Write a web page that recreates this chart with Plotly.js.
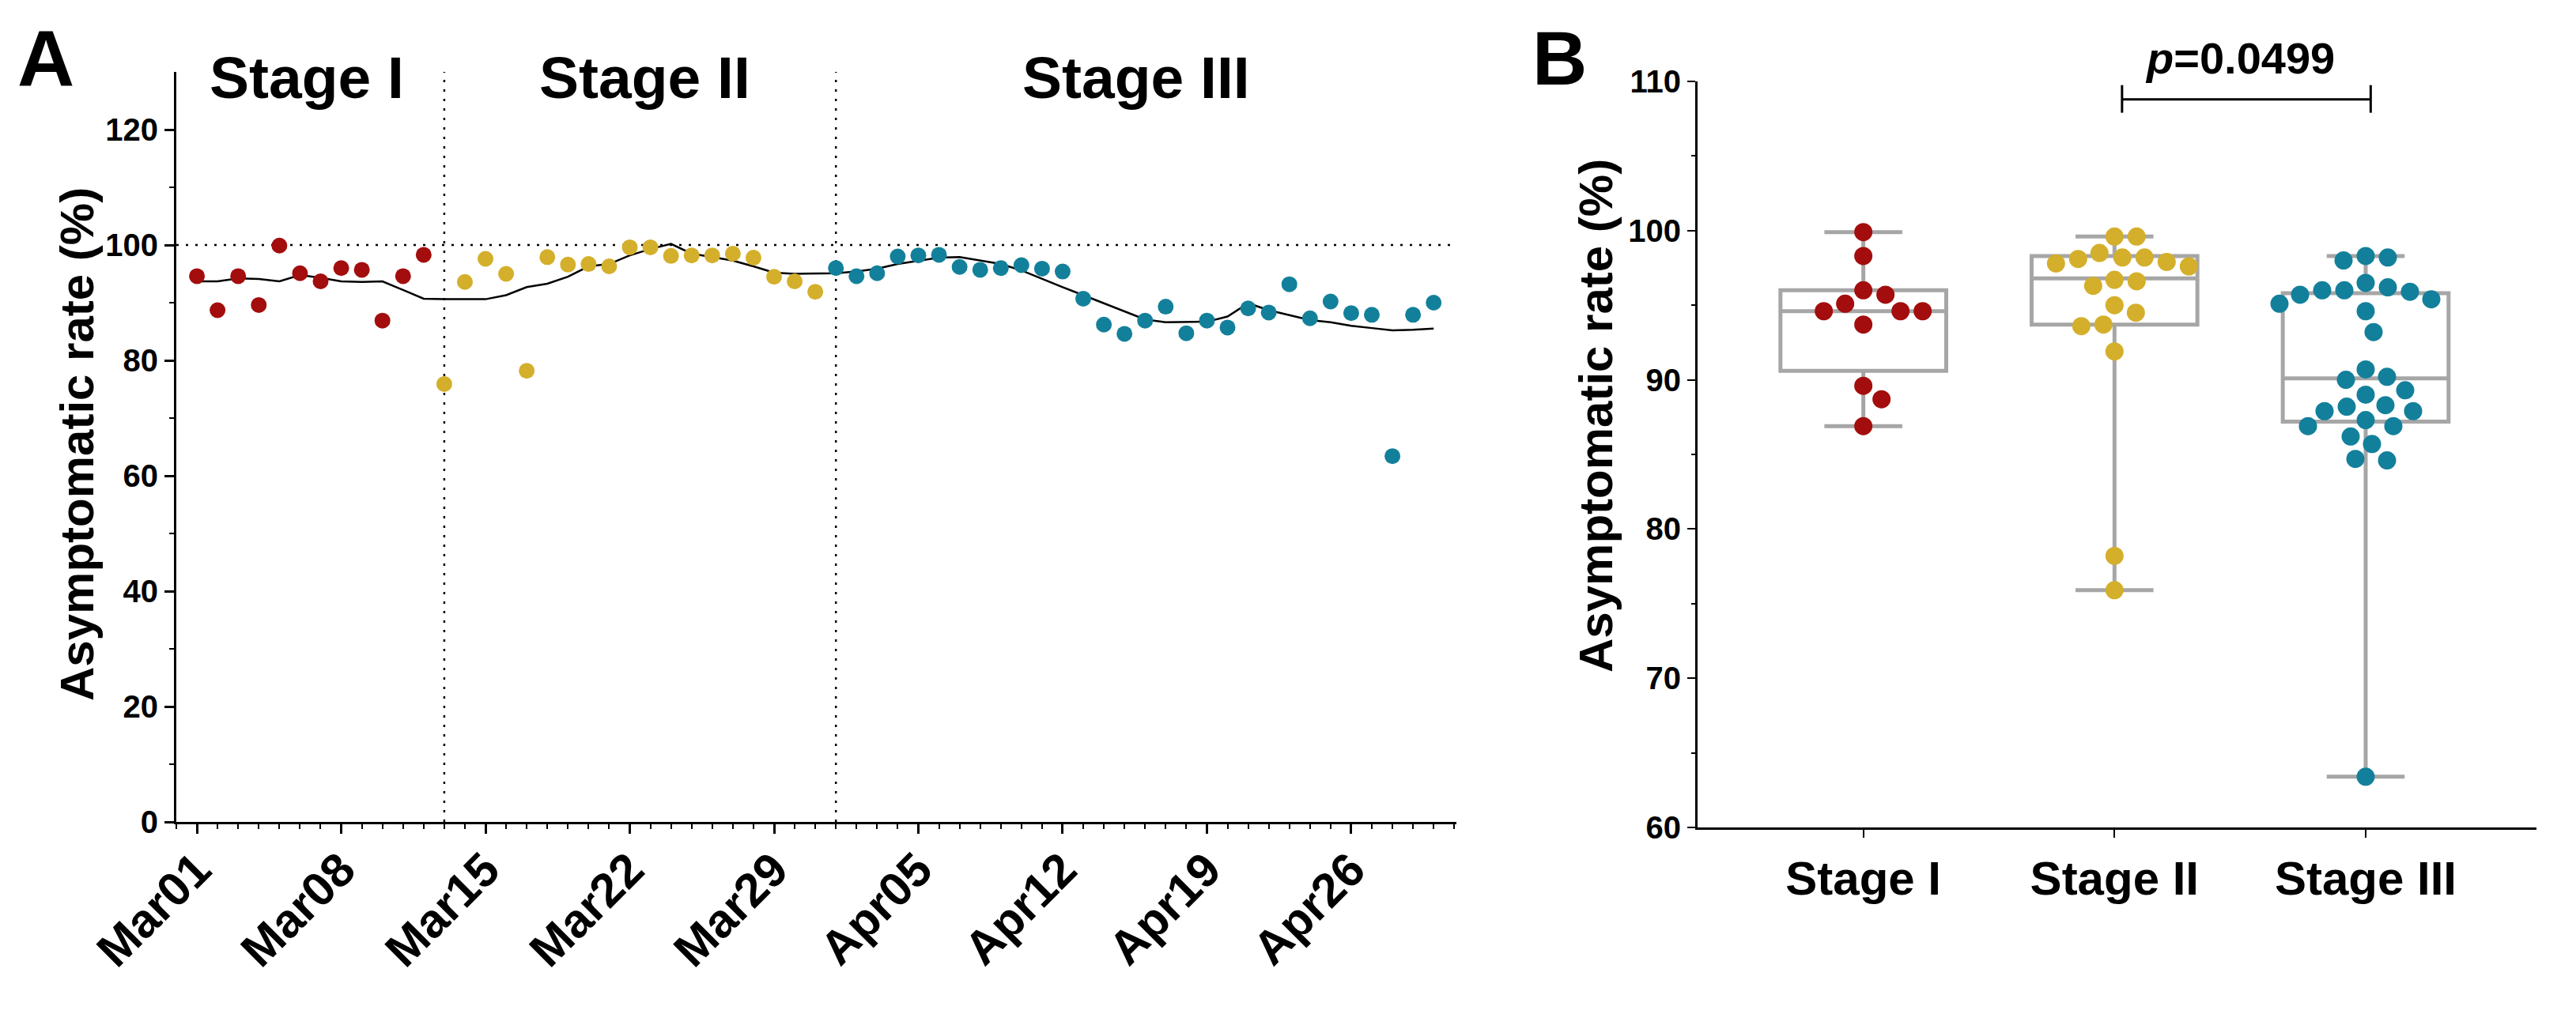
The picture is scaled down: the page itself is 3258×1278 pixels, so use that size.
<!DOCTYPE html>
<html>
<head>
<meta charset="utf-8">
<script src="https://cdn.plot.ly/plotly-3.0.1.min.js"></script>
<style>
html,body{margin:0;padding:0;background:#fff;}
#chart{width:3258px;height:1278px;}
</style>
</head>
<body>
<div id="chart"></div>
<script>
// ---------------- DATA ----------------
const stageNames = ["Stage I", "Stage II", "Stage III"];

const stage1Dates = ["2020-03-01","2020-03-02","2020-03-03","2020-03-04","2020-03-05","2020-03-06",
  "2020-03-07","2020-03-08","2020-03-09","2020-03-10","2020-03-11","2020-03-12"];
const stage1Rate = [94.6, 88.7, 94.6, 89.6, 99.9, 95.1, 93.7, 96.0, 95.7, 86.9, 94.6, 98.3];

const stage2Dates = ["2020-03-13","2020-03-14","2020-03-15","2020-03-16","2020-03-17","2020-03-18",
  "2020-03-19","2020-03-20","2020-03-21","2020-03-22","2020-03-23","2020-03-24","2020-03-25",
  "2020-03-26","2020-03-27","2020-03-28","2020-03-29","2020-03-30","2020-03-31"];
const stage2Rate = [75.9, 93.6, 97.6, 95.0, 78.2, 97.9, 96.6, 96.7, 96.3, 99.6, 99.6, 98.1, 98.2,
  98.2, 98.5, 97.8, 94.5, 93.7, 91.9];

const stage3Dates = ["2020-04-01","2020-04-02","2020-04-03","2020-04-04","2020-04-05","2020-04-06",
  "2020-04-07","2020-04-08","2020-04-09","2020-04-10","2020-04-11","2020-04-12","2020-04-13",
  "2020-04-14","2020-04-15","2020-04-16","2020-04-17","2020-04-18","2020-04-19","2020-04-20",
  "2020-04-21","2020-04-22","2020-04-23","2020-04-24","2020-04-25","2020-04-26","2020-04-27",
  "2020-04-28","2020-04-29","2020-04-30"];
const stage3Rate = [96.0, 94.6, 95.1, 98.0, 98.2, 98.3, 96.2, 95.7, 96.0, 96.5, 95.9, 95.4, 90.7,
  86.2, 84.6, 86.9, 89.3, 84.7, 86.9, 85.7, 89.0, 88.3, 93.2, 87.3, 90.2, 88.2, 87.9,
  63.4, 87.9, 90.0];

// smoothed trend line (one value per day, Mar01..Apr30)
const trendMarch = [93.7, 93.7, 94.2, 94.1, 93.7, 94.8, 94.3, 93.7, 93.6, 93.7, 92.2, 90.7, 90.6,
  90.6, 90.6, 91.3, 92.7, 93.3, 94.5, 96.3, 96.7, 98.2, 99.3, 100.2, 98.5, 97.9, 97.3, 96.3,
  95.2, 95.0, 95.0];
const trendApril = [95.1, 95.4, 95.9, 96.7, 97.3, 97.8, 97.9, 97.3, 96.7, 95.6, 94.1, 92.7, 91.3,
  89.9, 88.6, 87.1, 86.6, 86.6, 86.7, 87.6, 89.9, 88.7, 87.9, 87.0, 86.6, 86.0, 85.6, 85.2,
  85.3, 85.5];

// box statistics (panel B)
const boxLower  = [86.9, 75.9, 63.4];
const boxQ1     = [90.6, 93.7, 87.2];
const boxMedian = [94.6, 96.8, 90.1];
const boxQ3     = [96.0, 98.3, 95.8];
const boxUpper  = [99.9, 99.6, 98.3];

const yTicksA = [0, 20, 40, 60, 80, 100, 120];
const yTicksB = [60, 70, 80, 90, 100, 110];
const pText = "<i>p</i>=0.0499";

// ---------------- STYLE ----------------
const W = 3258, H = 1278;
const FONT = "Liberation Sans, Arial, Helvetica, sans-serif";
const colors = ["#A30D0D", "#D4AF2B", "#13809B"];
const boxGray = "#A6A6A6";
const px = x => x / W;
const py = y => 1 - y / H;

// Panel geometry (pixels)
const A = {l: 223, r: 1842, t: 91, b: 1040};
const B = {l: 2147, r: 3208, t: 103, b: 1047};
const bxRange = [-0.66, 2.68];
const byRange = [60, 110];

// simple beeswarm layout for panel B points
function swarm(values, pxPerX, pxPerY, dist) {
  const order = values.map((v, i) => i).sort((a, b) => values[b] - values[a]);
  const placed = [];
  const offs = new Array(values.length);
  for (const i of order) {
    const yp = values[i] * pxPerY;
    let chosen = 0;
    for (let k = 0; k < 2000; k++) {
      const cand = (k % 2 === 1 ? 1 : -1) * Math.ceil(k / 2);
      let ok = true;
      for (const p of placed) {
        const dx = p.x - cand, dy = p.y - yp;
        if (dx * dx + dy * dy < dist * dist) { ok = false; break; }
      }
      if (ok) { chosen = cand; break; }
    }
    placed.push({x: chosen, y: yp});
    offs[i] = chosen / pxPerX;
  }
  return offs;
}

const pxPerXB = (B.r - B.l) / (bxRange[1] - bxRange[0]);
const pxPerYB = (B.b - B.t) / (byRange[1] - byRange[0]);

const stageRates = [stage1Rate, stage2Rate, stage3Rate];
const stageDates = [stage1Dates, stage2Dates, stage3Dates];

const traces = [];

// Panel A: trend line
traces.push({
  type: "scatter", mode: "lines",
  x: stage1Dates.concat(stage2Dates, stage3Dates),
  y: trendMarch.concat(trendApril),
  line: {color: "#000", width: 2.5},
  xaxis: "x", yaxis: "y", hoverinfo: "skip", showlegend: false
});
// Panel A: points
for (let s = 0; s < 3; s++) {
  traces.push({
    type: "scatter", mode: "markers",
    x: stageDates[s], y: stageRates[s],
    marker: {color: colors[s], size: 20},
    xaxis: "x", yaxis: "y", name: stageNames[s], showlegend: false
  });
}
// Panel B: boxes
traces.push({
  type: "box", x: [0, 1, 2],
  q1: boxQ1, median: boxMedian, q3: boxQ3, lowerfence: boxLower, upperfence: boxUpper,
  width: 0.66, whiskerwidth: 0.47, boxpoints: false,
  line: {color: boxGray, width: 5}, fillcolor: "rgba(255,255,255,0)",
  xaxis: "x2", yaxis: "y2", hoverinfo: "skip", showlegend: false
});
// Panel B: points
for (let s = 0; s < 3; s++) {
  const offs = swarm(stageRates[s], pxPerXB, pxPerYB, 28);
  traces.push({
    type: "scatter", mode: "markers",
    x: offs.map(o => s + o), y: stageRates[s],
    marker: {color: colors[s], size: 23},
    xaxis: "x2", yaxis: "y2", name: stageNames[s], showlegend: false
  });
}

const axisCommon = {
  showline: true, linecolor: "#000", linewidth: 3, showgrid: false, zeroline: false,
  ticks: "outside", tickcolor: "#000", tickwidth: 3, mirror: false
};

const layout = {
  width: W, height: H, autosize: false,
  margin: {l: 0, r: 0, t: 0, b: 0},
  paper_bgcolor: "#fff", plot_bgcolor: "#fff",
  font: {family: FONT, color: "#000"},
  showlegend: false,
  xaxis: Object.assign({}, axisCommon, {
    type: "date", domain: [px(A.l), px(A.r)], anchor: "y",
    range: ["2020-02-29 00:00", "2020-05-01 02:30"],
    tick0: "2020-03-01", dtick: 7 * 86400000, tickformat: "%b%d", tickangle: -45,
    ticklen: 12, ticklabelstandoff: -14,
    tickfont: {family: FONT, size: 60, weight: "bold", color: "#000"},
    minor: {dtick: 86400000, tick0: "2020-03-01", ticks: "outside", ticklen: 6, tickwidth: 2, tickcolor: "#000", showgrid: false}
  }),
  yaxis: Object.assign({}, axisCommon, {
    domain: [py(A.b), py(A.t)], anchor: "x",
    range: [0, 130], tickmode: "array", tickvals: yTicksA,
    ticklen: 12,
    tickfont: {family: FONT, size: 40, weight: "bold", color: "#000"},
    minor: {tickmode: "array", tickvals: [10, 30, 50, 70, 90, 110], ticks: "outside", ticklen: 6, tickwidth: 2, tickcolor: "#000", showgrid: false}
  }),
  xaxis2: Object.assign({}, axisCommon, {
    domain: [px(B.l), px(B.r)], anchor: "y2",
    range: bxRange, tickmode: "array", tickvals: [0, 1, 2], ticktext: stageNames,
    ticklen: 10, tickwidth: 2,
    tickfont: {family: FONT, size: 60, weight: "bold", color: "#000"}
  }),
  yaxis2: Object.assign({}, axisCommon, {
    domain: [py(B.b), py(B.t)], anchor: "x2",
    range: byRange, tickmode: "array", tickvals: yTicksB,
    ticklen: 10, tickwidth: 2,
    tickfont: {family: FONT, size: 40, weight: "bold", color: "#000"},
    minor: {tickmode: "array", tickvals: [65, 75, 85, 95, 105], ticks: "outside", ticklen: 5, tickwidth: 2, tickcolor: "#000", showgrid: false}
  }),
  shapes: [
    {type: "line", layer: "below", xref: "x", yref: "y", x0: "2020-03-13", x1: "2020-03-13", y0: 0, y1: 130,
     line: {color: "#000", width: 2.5, dash: "3px,9px"}},
    {type: "line", layer: "below", xref: "x", yref: "y", x0: "2020-04-01", x1: "2020-04-01", y0: 0, y1: 130,
     line: {color: "#000", width: 2.5, dash: "3px,9px"}},
    {type: "line", layer: "below", xref: "x domain", yref: "y", x0: 0, x1: 1, y0: 100, y1: 100,
     line: {color: "#000", width: 2.5, dash: "3px,9px"}},
    // significance bracket
    {type: "line", xref: "x2", yref: "y2", x0: 1.03, x1: 2.02, y0: 108.8, y1: 108.8, line: {color: "#000", width: 3}},
    {type: "line", xref: "x2", yref: "y2", x0: 1.03, x1: 1.03, y0: 107.9, y1: 109.75, line: {color: "#000", width: 3}},
    {type: "line", xref: "x2", yref: "y2", x0: 2.02, x1: 2.02, y0: 107.9, y1: 109.75, line: {color: "#000", width: 3}}
  ],
  annotations: [
    {text: "<b>A</b>", xref: "paper", yref: "paper", x: px(58), y: py(74), xanchor: "center", yanchor: "middle",
     showarrow: false, font: {family: FONT, size: 100, color: "#000"}},
    {text: "<b>B</b>", xref: "paper", yref: "paper", x: px(1973), y: py(74), xanchor: "center", yanchor: "middle",
     showarrow: false, font: {family: FONT, size: 96, color: "#000"}},
    {text: "<b>Stage I</b>", xref: "paper", yref: "paper", x: px(388), y: py(98), xanchor: "center", yanchor: "middle",
     showarrow: false, font: {family: FONT, size: 75, color: "#000"}},
    {text: "<b>Stage II</b>", xref: "paper", yref: "paper", x: px(815), y: py(98), xanchor: "center", yanchor: "middle",
     showarrow: false, font: {family: FONT, size: 75, color: "#000"}},
    {text: "<b>Stage III</b>", xref: "paper", yref: "paper", x: px(1437), y: py(98), xanchor: "center", yanchor: "middle",
     showarrow: false, font: {family: FONT, size: 75, color: "#000"}},
    {text: "<b>Asymptomatic rate (%)</b>", xref: "paper", yref: "paper", x: px(97), y: py(562), textangle: -90,
     xanchor: "center", yanchor: "middle", showarrow: false, font: {family: FONT, size: 60, color: "#000"}},
    {text: "<b>Asymptomatic rate (%)</b>", xref: "paper", yref: "paper", x: px(2019), y: py(526), textangle: -90,
     xanchor: "center", yanchor: "middle", showarrow: false, font: {family: FONT, size: 60, color: "#000"}},
    {text: "<b>" + pText + "</b>", xref: "x2", yref: "paper", x: 1.5, y: py(74), xanchor: "center", yanchor: "middle",
     showarrow: false, font: {family: FONT, size: 56, color: "#000"}}
  ]
};

Plotly.newPlot("chart", traces, layout, {staticPlot: true, displayModeBar: false});
</script>
</body>
</html>
